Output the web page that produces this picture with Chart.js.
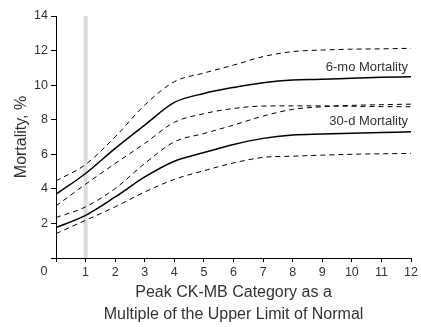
<!DOCTYPE html>
<html>
<head>
<meta charset="utf-8">
<script src="https://cdn.jsdelivr.net/npm/chart.js@4"></script>
<style>
  html, body { margin: 0; padding: 0; background: #fff; }
  #wrap { width: 421px; height: 327px; }
</style>
</head>
<body>
<div id="wrap"><canvas id="chart" width="421" height="327"></canvas></div>
<script>
// Peak CK-MB multiple (x) vs mortality (%)
const ckmbX = [0, 1, 2, 3, 4, 5, 6, 7, 8, 9, 10, 11, 12];

const mo6Mid   = [3.69, 4.89, 6.34, 7.69, 9.0, 9.52, 9.87, 10.14, 10.3, 10.34, 10.4, 10.45, 10.49];
const mo6Upper = [4.46, 5.41, 7.01, 8.85, 10.2, 10.7, 11.16, 11.65, 11.94, 12.03, 12.08, 12.1, 12.13];
const mo6Lower = [3.01, 4.27, 5.47, 6.63, 7.85, 8.35, 8.65, 8.79, 8.8, 8.8, 8.78, 8.76, 8.75];

const d30Mid   = [1.76, 2.47, 3.53, 4.69, 5.6, 6.1, 6.57, 6.92, 7.11, 7.17, 7.22, 7.26, 7.3];
const d30Upper = [2.34, 2.96, 4.02, 5.47, 6.72, 7.2, 7.69, 8.21, 8.6, 8.75, 8.83, 8.87, 8.9];
const d30Lower = [1.41, 2.18, 2.96, 3.82, 4.55, 5.05, 5.5, 5.82, 5.89, 5.95, 6.0, 6.03, 6.05];

// reference band at 1x upper limit of normal
const bandX = [1, 1];
const bandY = [0, 14];

const curveLabels = ["6-mo Mortality", "30-d Mortality"];
const curveLabelY = [11.02, 7.89];
const curveLabelX = 11.9;

const yTicks = [0, 2, 4, 6, 8, 10, 12, 14];

const textColor = "#333";
const fontFamily = "'Liberation Sans', Arial, sans-serif";

function pts(xs, ys) {
    return xs.map((x, i) => ({ x: x, y: ys[i] }));
}

function curve(values, dashed) {
    return {
        data: pts(ckmbX, values),
        borderColor: "#000",
        borderWidth: dashed ? 1 : 1.5,
        borderDash: dashed ? [5, 4] : [],
        pointRadius: 0,
        fill: false,
        cubicInterpolationMode: "monotone",
        order: 1
    };
}

// draws curve labels and the shared "0" at the origin
const annotate = {
    id: "annotate",
    afterDatasetsDraw(chart) {
        const ctx = chart.ctx;
        const xs = chart.scales.x;
        const ys = chart.scales.y;
        ctx.save();
        ctx.fillStyle = textColor;
        ctx.font = "13px " + fontFamily;
        ctx.textAlign = "right";
        ctx.textBaseline = "middle";
        curveLabels.forEach((txt, i) => {
            ctx.fillText(txt, xs.getPixelForValue(curveLabelX), ys.getPixelForValue(curveLabelY[i]));
        });
        ctx.font = "12.5px " + fontFamily;
        ctx.textAlign = "center";
        ctx.fillText("0", xs.left - 12, ys.bottom + 14);
        ctx.restore();
    }
};

new Chart(document.getElementById("chart").getContext("2d"), {
    type: "line",
    data: {
        datasets: [
            curve(mo6Upper, true),
            curve(mo6Mid, false),
            curve(mo6Lower, true),
            curve(d30Upper, true),
            curve(d30Mid, false),
            curve(d30Lower, true),
            {
                data: pts(bandX, bandY),
                borderColor: "#dcdcdc",
                borderWidth: 4,
                pointRadius: 0,
                fill: false,
                order: 10
            }
        ]
    },
    options: {
        responsive: false,
        animation: false,
        layout: { padding: { top: 16, right: 9, bottom: 0, left: 0 } },
        plugins: {
            legend: { display: false },
            tooltip: { enabled: false }
        },
        scales: {
            x: {
                type: "linear",
                min: 0,
                max: 12,
                afterFit(scale) { scale.height = 69; },
                ticks: {
                    stepSize: 1,
                    color: textColor,
                    padding: 3,
                    font: { family: fontFamily, size: 12.5 },
                    callback: v => (v === 0 ? "" : v)
                },
                grid: { drawOnChartArea: false, drawTicks: true, tickLength: 4, color: "#000" },
                border: { display: true, color: "#000", width: 1 },
                title: {
                    display: true,
                    text: ["Peak CK-MB Category as a", "Multiple of the Upper Limit of Normal"],
                    color: textColor,
                    font: { family: fontFamily, size: 16, lineHeight: 1.375 },
                    padding: { top: 0, bottom: 1 }
                }
            },
            y: {
                min: 0,
                max: 14,
                afterFit(scale) { scale.width = 56; },
                afterBuildTicks(scale) { scale.ticks = yTicks.map(v => ({ value: v })); },
                ticks: {
                    color: textColor,
                    padding: 3,
                    font: { family: fontFamily, size: 12.5 },
                    callback: v => (v === 0 ? "" : v)
                },
                grid: { drawOnChartArea: false, drawTicks: true, tickLength: 5, color: "#000" },
                border: { display: true, color: "#000", width: 1 },
                title: {
                    display: true,
                    text: "Mortality, %",
                    color: textColor,
                    font: { family: fontFamily, size: 16 },
                    padding: { top: 12, bottom: 0 }
                }
            }
        }
    },
    plugins: [annotate]
});
</script>
</body>
</html>
